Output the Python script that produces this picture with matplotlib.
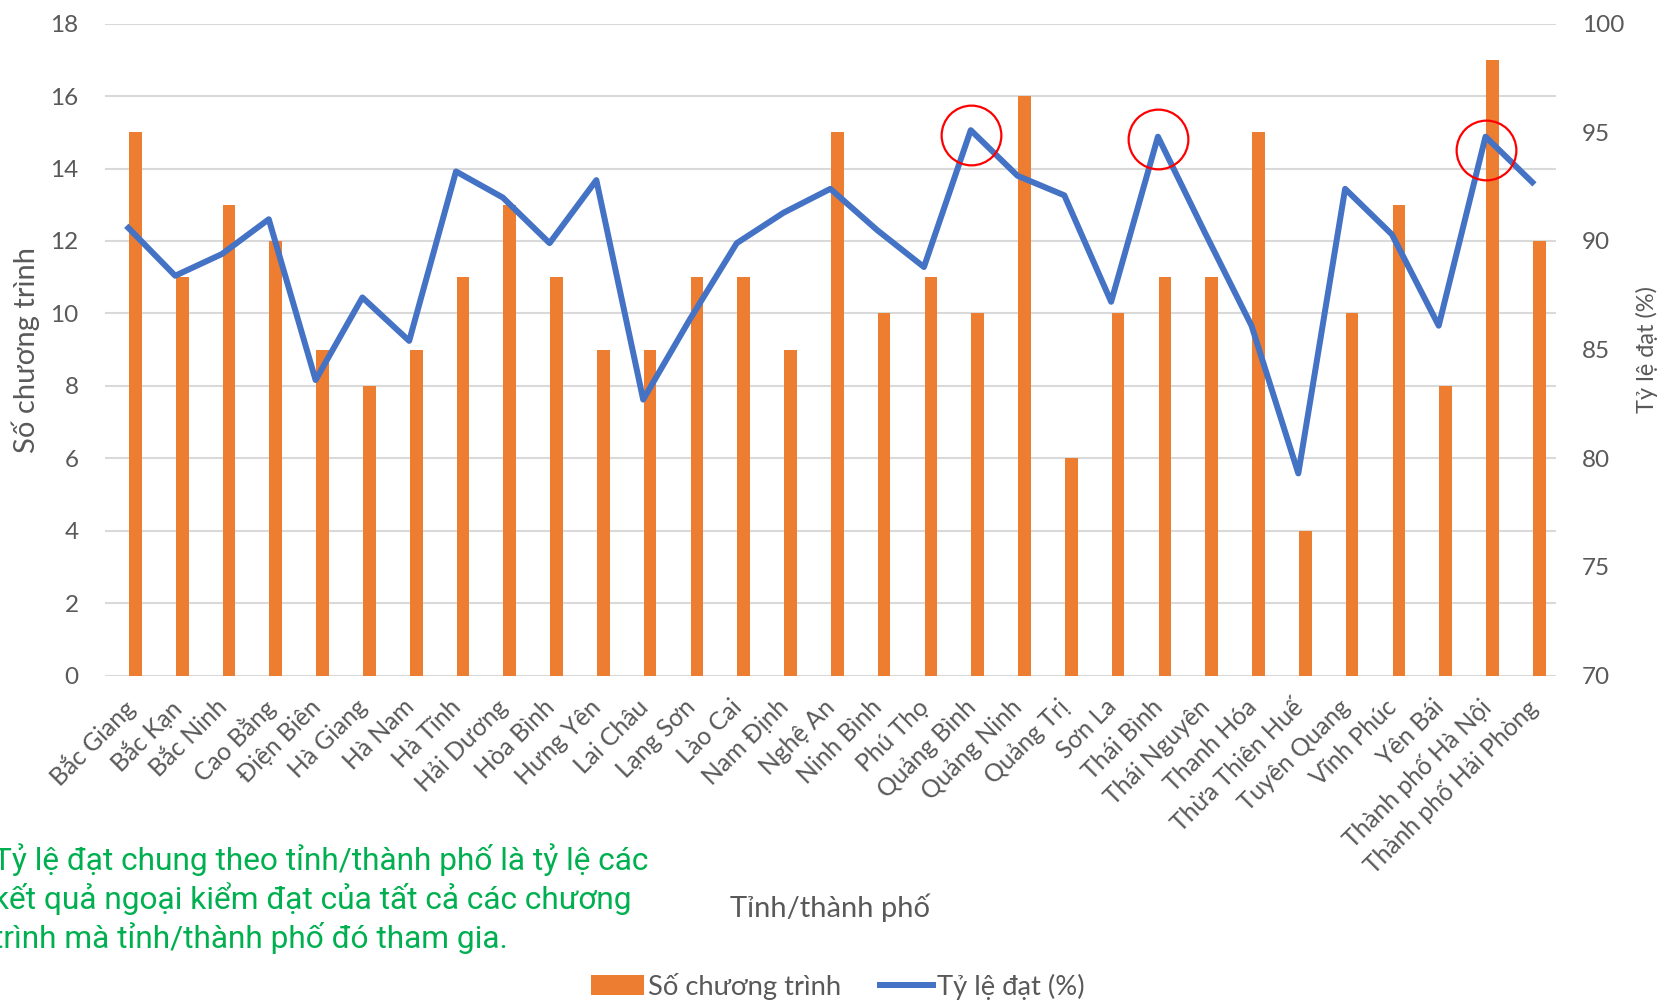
import matplotlib
matplotlib.use("Agg")
import matplotlib.pyplot as plt
import numpy as np
from matplotlib.patches import Patch
from matplotlib.lines import Line2D
from matplotlib.transforms import ScaledTranslation

provinces = ["Bắc Giang", "Bắc Kạn", "Bắc Ninh", "Cao Bằng", "Điện Biên", "Hà Giang",
             "Hà Nam", "Hà Tĩnh", "Hải Dương", "Hòa Bình", "Hưng Yên", "Lai Châu",
             "Lạng Sơn", "Lào Cai", "Nam Định", "Nghệ An", "Ninh Bình", "Phú Thọ",
             "Quảng Bình", "Quảng Ninh", "Quảng Trị", "Sơn La", "Thái Bình",
             "Thái Nguyên", "Thanh Hóa", "Thừa Thiên Huế", "Tuyên Quang", "Vĩnh Phúc",
             "Yên Bái", "Thành phố Hà Nội", "Thành phố Hải Phòng"]
programs = [15, 11, 13, 12, 9, 8, 9, 11, 13, 11, 9, 9, 11, 11, 9, 15, 10, 11,
            10, 16, 6, 10, 11, 11, 15, 4, 10, 13, 8, 17, 12]
pass_rate = [90.6, 88.4, 89.4, 91.0, 83.6, 87.4, 85.4, 93.2, 92.0, 89.9, 92.8, 82.7,
             86.4, 89.9, 91.3, 92.4, 90.5, 88.8, 95.1, 93.0, 92.1, 87.2, 94.8,
             90.4, 86.1, 79.3, 92.4, 90.3, 86.1, 94.8, 92.7]
left_ticks = [0, 2, 4, 6, 8, 10, 12, 14, 16, 18]
right_ticks = [70, 75, 80, 85, 90, 95, 100]
highlight_idx = [18, 22, 29]
highlight_val = [94.9, 94.7, 94.2]
note_lines = ["Tỷ lệ đạt chung theo tỉnh/thành phố là tỷ lệ các",
              "kết quả ngoại kiểm đạt của tất cả các chương",
              "trình mà tỉnh/thành phố đó tham gia."]
series_names = ["Số chương trình", "Tỷ lệ đạt (%)"]
left_label = "Số chương trình"
right_label = "Tỷ lệ đạt (%)"
x_label = "Tỉnh/thành phố"

BAR_C = "#ED7D31"
LINE_C = "#4472C4"
TXT_C = "#595959"
GRID_C = "#D9D9D9"

plt.rcParams['font.family'] = ['Lato', 'DejaVu Sans']

W, H = 1664, 1000
fig = plt.figure(figsize=(W / 100, H / 100), dpi=100)
L, R, T, B = 105, 1555.7, 23.7, 675.5
ax = fig.add_axes([L / W, 1 - B / H, (R - L) / W, (B - T) / H])
ax2 = ax.twinx()

x = np.arange(len(provinces))
ax.bar(x + 0.15, programs, width=0.27, color=BAR_C, zorder=2)
ax.set_xlim(-0.5, len(provinces) - 0.5)
ax.set_ylim(0, 18)
ax.set_yticks(left_ticks)
ax.grid(axis='y', color=GRID_C, lw=1.5, zorder=0)
ax.set_axisbelow(True)
ax.set_xticks(x)
ax.set_xticklabels(provinces, rotation=45, ha='right', rotation_mode='anchor')
ax.tick_params(axis='y', length=0, labelsize=17.5, colors=TXT_C, pad=19)
ax.tick_params(axis='x', length=0, labelsize=17.7, colors=TXT_C, pad=12)
shift = ScaledTranslation(-0.07, -0.03, fig.dpi_scale_trans)
for lab in ax.get_xticklabels():
    lab.set_transform(lab.get_transform() + shift)

ax2.plot(x, pass_rate, color=LINE_C, lw=4.3, solid_joinstyle='round', zorder=3)
ax2.plot(highlight_idx, highlight_val, ls='none', marker='o', ms=43,
         mfc='none', mec='#FF0000', mew=1.6, zorder=4)
ax2.set_ylim(70, 100)
ax2.set_yticks(right_ticks)
ax2.tick_params(axis='y', length=0, labelsize=17.5, colors=TXT_C, pad=19)

for a in (ax, ax2):
    for s in a.spines.values():
        s.set_visible(False)

ax.set_ylabel(left_label, fontsize=21, color=TXT_C)
ax.yaxis.set_label_coords((40 - L) / (R - L), 0.5)
ax2.set_ylabel(right_label, fontsize=17, color=TXT_C, rotation=90)
ax2.yaxis.set_label_coords((1636 - L) / (R - L), 0.5)

fig.text(830 / W, 1 - 908 / H, x_label, ha='center', va='center', fontsize=21, color=TXT_C)

for i, line in enumerate(note_lines):
    fig.text(-7 / W, 1 - (860 + 39 * i) / H, line, ha='left', va='center',
             fontsize=22.8, color='#00B050', family=['Roboto', 'DejaVu Sans'])

handles = [Patch(facecolor=BAR_C, edgecolor='none'),
           Line2D([0], [0], color=LINE_C, lw=4.3)]
fig.legend(handles, series_names, loc='center', bbox_to_anchor=(838 / W, 0.014),
           ncol=2, frameon=False, fontsize=19.7, labelcolor=TXT_C,
           handlelength=1.95, handletextpad=0.15, columnspacing=1.4)

fig.savefig("out.png", dpi=100)
